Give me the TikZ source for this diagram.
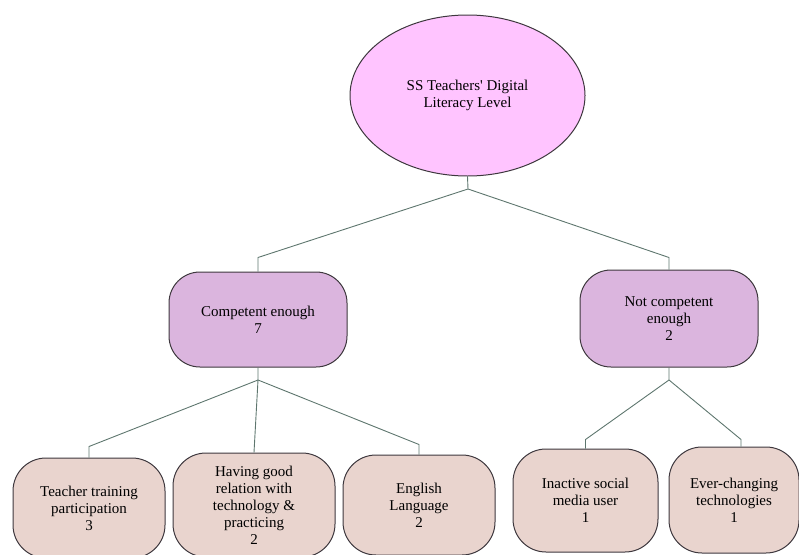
\documentclass[tikz,border=0pt]{standalone}
\usepackage{fontspec}
\setmainfont{Liberation Serif}
\usetikzlibrary{shapes.geometric, positioning}
\definecolor{rootpink}{RGB}{255,196,255}
\definecolor{midpurple}{RGB}{219,181,222}
\definecolor{leafrose}{RGB}{233,212,206}
\definecolor{linkgrey}{RGB}{94,118,110}
\definecolor{edgegrey}{RGB}{62,56,62}

\begin{document}
\begin{tikzpicture}[x=1pt, y=-1pt, font=\fontsize{15}{17}\selectfont,
    rootnode/.style={draw=edgegrey, ellipse, fill=rootpink, line width=1pt, inner sep=0pt, align=center, minimum width=235pt, minimum height=161pt},
    midnode/.style={draw=edgegrey, rectangle, rounded corners=31pt, fill=midpurple, line width=1pt, inner sep=0pt, align=center, minimum width=178pt},
    leafnode/.style={draw=edgegrey, rectangle, rounded corners=33pt, fill=leafrose, line width=1pt, inner sep=0pt, align=center},
    link/.style={draw=linkgrey, line width=0.9pt}]
    \useasboundingbox (0,0) rectangle (799,554);

    % Root
    \node [rootnode] (root) at (467.5,95.5) {SS Teachers\textquotesingle\ Digital\\Literacy Level};

    % Second level
    \node [midnode, minimum height=95pt] (comp) at (258,319.5) {Competent enough\\7};
    \node [midnode, minimum height=97pt] (notc) at (669,318.5) {Not competent\\enough\\2};

    % Leaves
    \node [leafnode, minimum width=152pt, minimum height=100pt] (train) at (89,508) {Teacher training\\participation\\3};
    \node [leafnode, minimum width=162pt, minimum height=104pt] (relat) at (254,505) {Having good\\relation with\\technology \&\\practicing\\2};
    \node [leafnode, minimum width=152pt, minimum height=100pt] (engl) at (419,505) {English\\Language\\2};
    \node [leafnode, minimum width=145pt, minimum height=103pt] (social) at (585.5,500.5) {Inactive social\\media user\\1};
    \node [leafnode, minimum width=130pt, minimum height=106pt] (change) at (734,500) {Ever-changing\\technologies\\1};

    % Junctions
    \coordinate (rootj) at (468,189);
    \coordinate (compj) at (258,380);
    \coordinate (notcj) at (669,380);

    % Connections: root to second level
    \draw [link] (root.south) -- (rootj) -- ([yshift=14pt]comp.north) -- (comp.north);
    \draw [link] (rootj) -- ([yshift=12pt]notc.north) -- (notc.north);

    % Connections: second level to leaves
    \draw [link] (comp.south) -- (compj) -- ([yshift=11pt]train.north) -- (train.north);
    \draw [link] (compj) -- (relat.north);
    \draw [link] (compj) -- ([yshift=10pt]engl.north) -- (engl.north);
    \draw [link] (notc.south) -- (notcj) -- ([yshift=9pt]social.north) -- (social.north);
    \draw [link] (notcj) -- ([shift={(7pt,7pt)}]change.north) -- ([xshift=7pt]change.north);
\end{tikzpicture}
\end{document}
